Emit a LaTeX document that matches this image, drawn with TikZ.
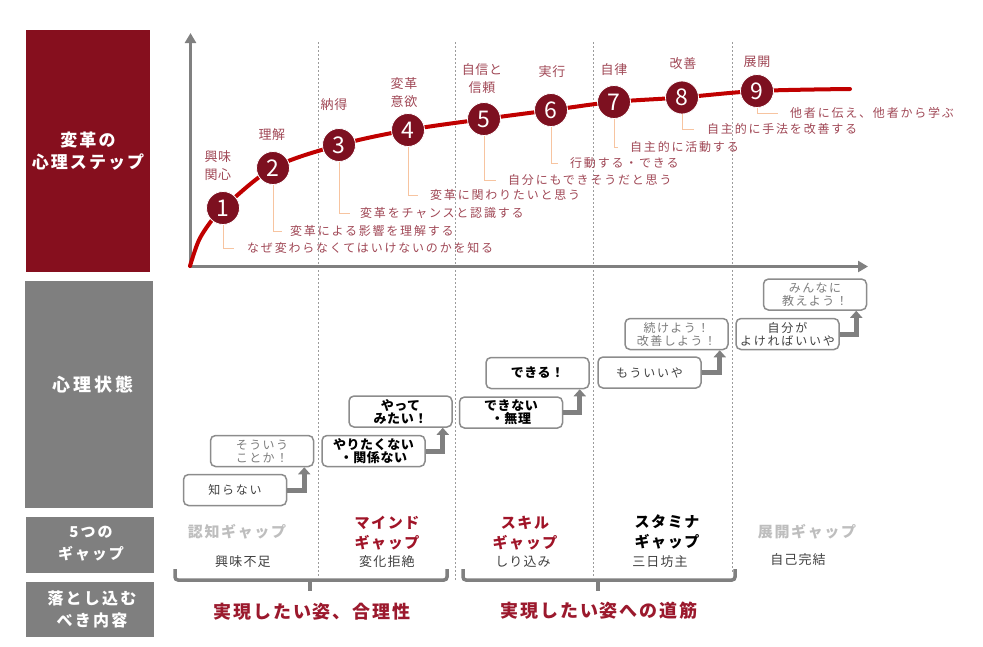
\documentclass[tikz,border=0pt]{standalone}
\usepackage{fontspec}
\setmainfont{Noto Sans CJK JP}
\usetikzlibrary{arrows.meta}
\definecolor{panelred}{RGB}{134,15,30}
\definecolor{panelgrey}{RGB}{127,127,127}
\definecolor{curvered}{RGB}{192,0,0}
\definecolor{circred}{RGB}{125,16,32}
\definecolor{steptxt}{RGB}{160,72,86}
\definecolor{leadc}{RGB}{247,196,160}
\definecolor{boxgrey}{RGB}{140,140,140}
\definecolor{arrgrey}{RGB}{128,128,128}
\definecolor{dashgrey}{RGB}{155,155,155}
\definecolor{dgrey}{RGB}{64,64,64}
\definecolor{lgrey}{RGB}{125,125,125}
\definecolor{pale}{RGB}{190,190,190}
\definecolor{gapred}{RGB}{160,20,40}
\definecolor{botred}{RGB}{155,25,45}
\tikzset{
  panel/.style={minimum width=#1, inner sep=0pt, draw=none},
  paneltxt/.style={text=white, align=center, inner sep=0pt},
  axisline/.style={draw=arrgrey, line width=3.5pt, -{Triangle[width=11pt,length=10pt]}},
  sepline/.style={draw=dashgrey, line width=0.6pt, dash pattern=on 2pt off 2pt},
  curveline/.style={draw=curvered, line width=4pt, line cap=round},
  stepc/.style={circle, fill=circred, draw=white, line width=0.8pt, minimum size=33pt, inner sep=0pt, text=white, font=\fontsize{23}{23}\selectfont},
  steplbl/.style={text=steptxt, align=center, inner sep=0pt, font=\fontsize{13}{18}\selectfont\addfontfeature{LetterSpace=4}},
  desc/.style={text=steptxt, anchor=west, inner sep=0pt, font=\fontsize{12}{13}\selectfont\addfontfeature{LetterSpace=15}},
  leader/.style={draw=leadc, line width=1pt},
  sbox/.style={draw=boxgrey, line width=1.5pt, rounded corners=5pt, fill=white, minimum width=103pt, minimum height=31pt, align=center, inner sep=0pt},
  bn/.style={text=dgrey, font=\fontsize{12}{13}\selectfont\addfontfeature{LetterSpace=15}},
  bl/.style={text=lgrey, font=\fontsize{12}{13}\selectfont\addfontfeature{LetterSpace=12}},
  bb/.style={text=black, font=\fontsize{13}{13}\selectfont\bfseries\addfontfeature{LetterSpace=4}},
  garrow/.style={draw=arrgrey, line width=5pt, -{Triangle[width=12pt,length=7pt]}},
  gaplbl/.style={align=center, inner sep=0pt, font=\fontsize{15}{20}\selectfont\bfseries\addfontfeature{LetterSpace=11}},
  gapsub/.style={text=dgrey, inner sep=0pt, font=\fontsize{13}{13}\selectfont\addfontfeature{LetterSpace=9}},
  brk/.style={draw=arrgrey, line width=3.5pt, rounded corners=3pt},
  bottxt/.style={text=botred, inner sep=0pt, font=\fontsize{18}{18}\selectfont\bfseries\addfontfeature{LetterSpace=10}}
}
\begin{document}
\begin{tikzpicture}[x=1pt,y=-1pt]
\useasboundingbox (0,0) rectangle (983,646);
% left panels
\node[panel=124pt, minimum height=242pt, fill=panelred] (p1) at (87.5,151) {};
\node[panel=128pt, minimum height=227pt, fill=panelgrey] (p2) at (89,394.5) {};
\node[panel=128pt, minimum height=56pt, fill=panelgrey] (p3) at (90,545) {};
\node[panel=128pt, minimum height=55pt, fill=panelgrey] (p4) at (90,609.5) {};
\node[paneltxt, font=\fontsize{17}{22}\selectfont\bfseries\addfontfeature{LetterSpace=12}] (t1) at (88,151) {変革の\\心理ステップ};
\node[paneltxt, font=\fontsize{18}{22}\selectfont\bfseries\addfontfeature{LetterSpace=16}] (t2) at (93,385) {心理状態};
\node[paneltxt, font=\fontsize{15}{22}\selectfont\bfseries\addfontfeature{LetterSpace=13}] (t3) at (91,544) {5つの\\ギャップ};
\node[paneltxt, font=\fontsize{16}{22}\selectfont\bfseries\addfontfeature{LetterSpace=14}] (t4) at (92,609) {落とし込む\\べき内容};
% separators
\draw[sepline] (318,42) -- (318,578);
\draw[sepline] (455,42) -- (455,580);
\draw[sepline] (593,42) -- (593,577);
\draw[sepline] (732,42) -- (732,572);
% axes
\draw[axisline] (190.5,268) -- (190.5,33);
\draw[axisline] (189,266.5) -- (868,266.5);
% curve
\draw[curveline] plot[smooth, tension=0.55] coordinates {(190,266) (199,240) (212,220) (223,208) (273,168) (339,145) (408,130) (484,119) (552,110) (613,102) (681,97.5) (757,91) (850,89)};
% description texts
\node[desc] (d1) at (247,248) {なぜ変わらなくてはいけないのかを知る};
\node[desc] (d2) at (290,231) {変革による影響を理解する};
\node[desc] (d3) at (360,213) {変革をチャンスと認識する};
\node[desc] (d4) at (430,195) {変革に関わりたいと思う};
\node[desc] (d5) at (508,180) {自分にもできそうだと思う};
\node[desc] (d6) at (570,163) {行動する・できる};
\node[desc] (d7) at (630,147) {自主的に活動する};
\node[desc] (d8) at (707,129) {自主的に手法を改善する};
\node[desc] (d9) at (790,113) {他者に伝え、他者から学ぶ};
% circles
\node[stepc] (c1) at (223,208) {1};
\node[stepc] (c2) at (273,168) {2};
\node[stepc] (c3) at (339,145) {3};
\node[stepc] (c4) at (408,130) {4};
\node[stepc] (c5) at (484,119) {5};
\node[stepc] (c6) at (551,110) {6};
\node[stepc] (c7) at (614,102) {7};
\node[stepc] (c8) at (682,97.5) {8};
\node[stepc] (c9) at (757,91) {9};
% leaders
\draw[leader] (c1.south) |- ([xshift=-13pt]d1.west);
\draw[leader] (c2.south) |- ([xshift=-8pt]d2.west);
\draw[leader] (c3.south) |- ([xshift=-10pt]d3.west);
\draw[leader] (c4.south) |- ([xshift=-12pt]d4.west);
\draw[leader] (c5.south) |- ([xshift=-12pt]d5.west);
\draw[leader] (c6.south) |- ([xshift=-12pt]d6.west);
\draw[leader] (c7.south) |- ([xshift=-12pt]d7.west);
\draw[leader] (c8.south) |- ([xshift=-13pt]d8.west);
\draw[leader] (c9.south) |- ([xshift=-12pt]d9.west);
% step labels
\node[steplbl] (l1) at (218,166) {興味\\関心};
\node[steplbl] (l2) at (272,135) {理解};
\node[steplbl] (l3) at (334,105) {納得};
\node[steplbl] (l4) at (404,92.5) {変革\\意欲};
\node[steplbl] (l5) at (482,79) {自信と\\信頼};
\node[steplbl] (l6) at (552,72) {実行};
\node[steplbl] (l7) at (614,70) {自律};
\node[steplbl] (l8) at (683,64) {改善};
\node[steplbl] (l9) at (757,62) {展開};
% state boxes
\node[sbox, bn] (b1) at (235,490) {知らない};
\node[sbox, bl] (b2) at (262,451) {そういう\\ことか！};
\node[sbox, bb] (b3) at (373.5,451) {やりたくない\\・関係ない};
\node[sbox, bb] (b4) at (400.5,411.5) {やって\\みたい！};
\node[sbox, bb] (b5) at (511,412.5) {できない\\・無理};
\node[sbox, bb] (b6) at (537.5,373) {できる！};
\node[sbox, bn] (b7) at (649.5,372.5) {もういいや};
\node[sbox, bl] (b8) at (676.5,334) {続けよう！\\改善しよう！};
\node[sbox, bn] (b9) at (787.5,334) {自分が\\よければいいや};
\node[sbox, bl] (b10) at (815,294.5) {みんなに\\教えよう！};
\draw[garrow] (b1.east) -| ([xshift=-10pt]b2.south east);
\draw[garrow] (b3.east) -| ([xshift=-10pt]b4.south east);
\draw[garrow] (b5.east) -| ([xshift=-10pt]b6.south east);
\draw[garrow] (b7.east) -| ([xshift=-9pt]b8.south east);
\draw[garrow] (b9.east) -| ([xshift=-11pt]b10.south east);
% gaps
\node[gaplbl, text=pale] (g1) at (237,532) {認知ギャップ};
\node[gapsub] (s1) at (243,562) {興味不足};
\node[gaplbl, text=gapred] (g2) at (387,533) {マインド\\ギャップ};
\node[gapsub] (s2) at (387,562) {変化拒絶};
\node[gaplbl, text=gapred] (g3) at (525,533) {スキル\\ギャップ};
\node[gapsub] (s3) at (523,562) {しり込み};
\node[gaplbl, text=black] (g4) at (667,532) {スタミナ\\ギャップ};
\node[gapsub] (s4) at (660,562) {三日坊主};
\node[gaplbl, text=pale] (g5) at (807,532) {展開ギャップ};
\node[gapsub] (s5) at (798,560) {自己完結};
% brackets
\draw[brk] (175,569) -- (175,580) -- (447,580) -- (447,569);
\draw[brk] (310,580) -- (310,591);
\draw[brk] (463,569) -- (463,580) -- (735,580) -- (735,569);
\draw[brk] (598,580) -- (598,591);
\node[bottxt] (r1) at (312,612) {実現したい姿、合理性};
\node[bottxt] (r2) at (599,611) {実現したい姿への道筋};
\end{tikzpicture}
\end{document}
